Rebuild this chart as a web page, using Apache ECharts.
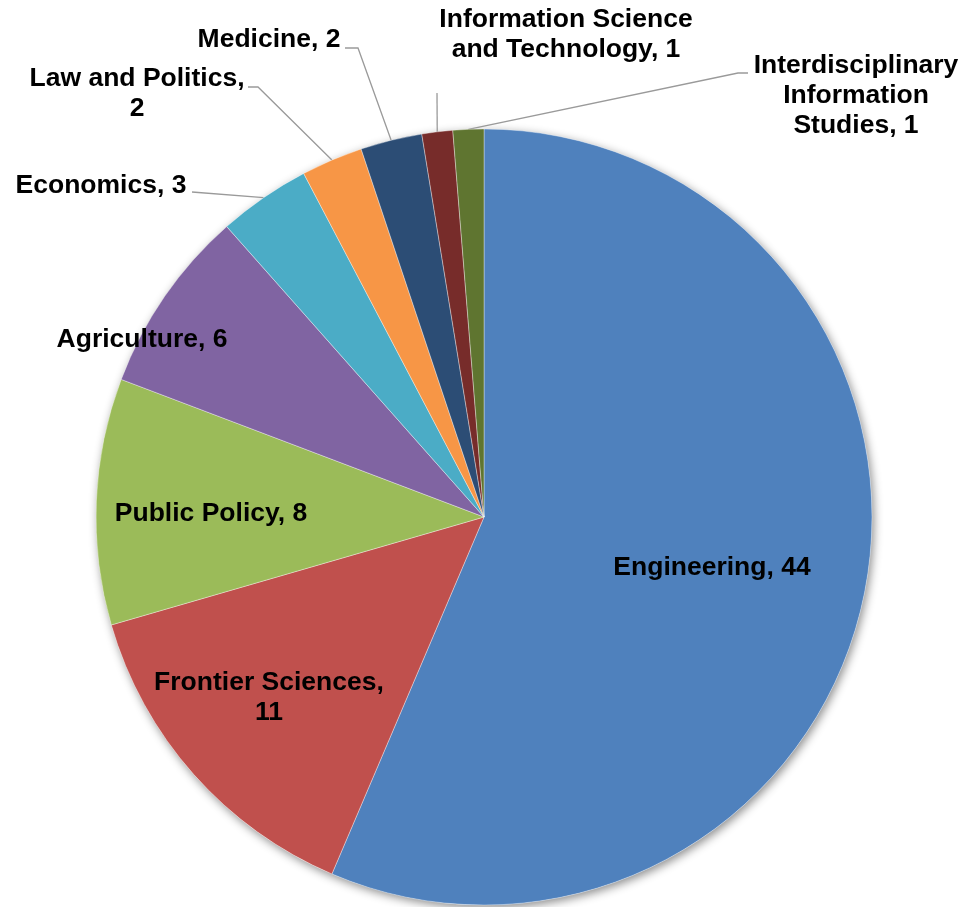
<!DOCTYPE html>
<html>
<head>
<meta charset="utf-8">
<script src="https://cdn.jsdelivr.net/npm/echarts@6/dist/echarts.min.js"></script>
<style>
html,body{margin:0;padding:0;background:#fff;}
#main{width:973px;height:907px;}
</style>
</head>
<body>
<div id="main"></div>
<script>
// ---- data ----
var categories = [
  'Engineering',
  'Frontier Sciences',
  'Public Policy',
  'Agriculture',
  'Economics',
  'Law and Politics',
  'Medicine',
  'Information Science and Technology',
  'Interdisciplinary Information Studies'
];
var values = [44, 11, 8, 6, 3, 2, 2, 1, 1];
// label texts as shown (with manual line breaks)
var labelTexts = [
  'Engineering, 44',
  'Frontier Sciences,\n11',
  'Public Policy, 8',
  'Agriculture, 6',
  'Economics, 3',
  'Law and Politics,\n2',
  'Medicine, 2',
  'Information Science\nand Technology, 1',
  'Interdisciplinary\nInformation\nStudies, 1'
];

// ---- styles / layout ----
var colors = ['#4F81BD', '#C0504D', '#9BBB59', '#8064A2', '#4BACC6', '#F79646', '#2C4D75', '#772C2A', '#5F7530'];
var labelPlace = [
  {x: 712, y: 568},
  {x: 269, y: 698},
  {x: 211, y: 514},
  {x: 142, y: 340},
  {x: 101, y: 186, line: [[192, 192], [192, 192]]},
  {x: 137, y: 94, line: [[258, 87], [248, 87]]},
  {x: 269, y: 40, line: [[358, 48], [345, 48]]},
  {x: 566, y: 35, line: [[437, 93]]},
  {x: 856, y: 96, line: [[738, 73], [748, 73]]}
];

var chart = echarts.init(document.getElementById('main'), null, {renderer: 'canvas'});

var pieData = categories.map(function (c, i) {
  var hasLine = !!labelPlace[i].line;
  return {
    name: c,
    value: values[i],
    itemStyle: {color: colors[i]},
    label: {formatter: labelTexts[i]},
    labelLine: {show: hasLine}
  };
});

var CENTER = [484, 517];
var R = 388;

chart.setOption({
  animation: false,
  series: [
    {
      type: 'pie',
      silent: true,
      z: 1,
      center: CENTER,
      radius: R,
      label: {show: false},
      labelLine: {show: false},
      itemStyle: {
        color: '#ffffff',
        shadowBlur: 10,
        shadowOffsetX: 2,
        shadowOffsetY: 3,
        shadowColor: 'rgba(0,0,0,0.45)'
      },
      data: [{value: 1, name: ''}]
    },
    {
      type: 'pie',
      z: 2,
      center: CENTER,
      radius: R,
      startAngle: 90,
      clockwise: true,
      avoidLabelOverlap: false,
      itemStyle: {borderColor: 'rgba(255,255,255,0.6)', borderWidth: 0.6},
      emphasis: {disabled: true},
      label: {
        show: true,
        position: 'outside',
        color: '#000000',
        fontFamily: 'Liberation Sans, Arial, sans-serif',
        fontWeight: 'bold',
        fontSize: 26.5,
        lineHeight: 30,
        align: 'center'
      },
      labelLine: {
        show: true,
        length: 10,
        length2: 10,
        lineStyle: {color: '#9A9A9A', width: 1.3}
      },
      labelLayout: function (params) {
        var p = labelPlace[params.dataIndex];
        var res = {x: p.x, y: p.y, align: 'center', verticalAlign: 'middle'};
        if (p.line) {
          var start;
          if (params.labelLinePoints && params.labelLinePoints[0]) {
            start = params.labelLinePoints[0];
          }
          if (start) {
            res.labelLinePoints = [start].concat(p.line);
          }
        }
        return res;
      },
      data: pieData
    }
  ]
});
</script>
</body>
</html>
